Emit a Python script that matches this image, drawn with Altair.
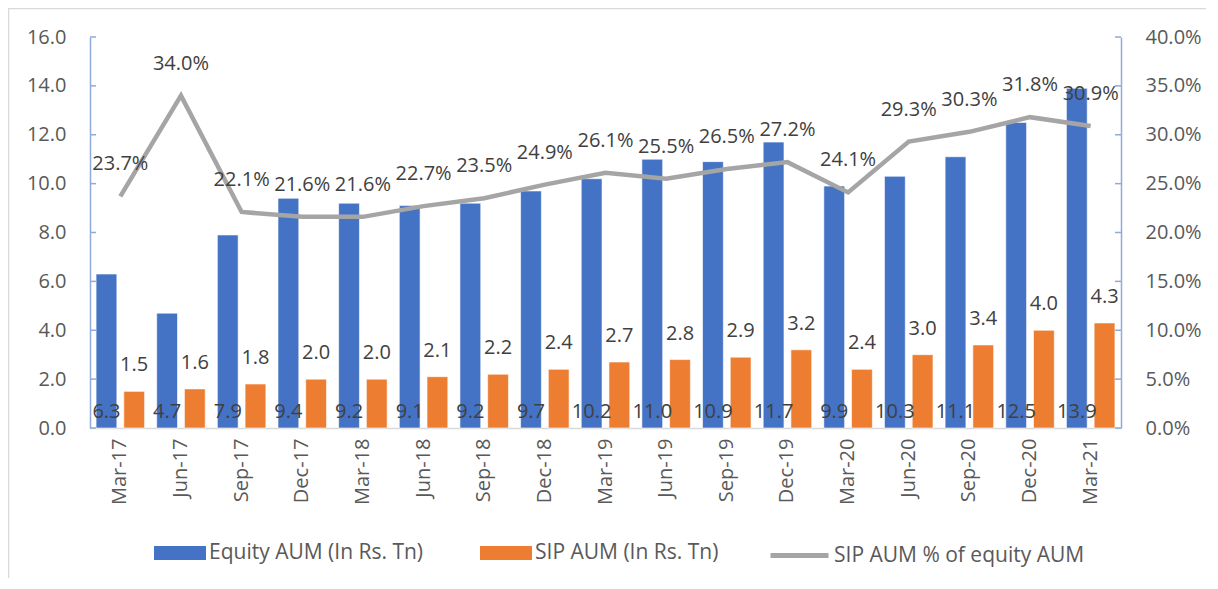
import altair as alt
import pandas as pd

quarters = ["Mar-17", "Jun-17", "Sep-17", "Dec-17", "Mar-18", "Jun-18", "Sep-18", "Dec-18",
            "Mar-19", "Jun-19", "Sep-19", "Dec-19", "Mar-20", "Jun-20", "Sep-20", "Dec-20", "Mar-21"]
equity = [6.3, 4.7, 7.9, 9.4, 9.2, 9.1, 9.2, 9.7, 10.2, 11.0, 10.9, 11.7, 9.9, 10.3, 11.1, 12.5, 13.9]
sip = [1.5, 1.6, 1.8, 2.0, 2.0, 2.1, 2.2, 2.4, 2.7, 2.8, 2.9, 3.2, 2.4, 3.0, 3.4, 4.0, 4.3]
pct = [0.237, 0.340, 0.221, 0.216, 0.216, 0.227, 0.235, 0.249, 0.261, 0.255, 0.265, 0.272,
       0.241, 0.293, 0.303, 0.318, 0.309]
left_ticks = [0, 2, 4, 6, 8, 10, 12, 14, 16]
right_ticks = [0, 0.05, 0.10, 0.15, 0.20, 0.25, 0.30, 0.35, 0.40]

S1 = "Equity AUM (In Rs. Tn)"
S2 = "SIP AUM (In Rs. Tn)"
S3 = "SIP AUM % of equity AUM"

BLUE = "#4472C4"
ORANGE = "#ED7D31"
GRAY = "#A5A5A5"
AXBLUE = "#8FAADC"
TXT = "#595959"
LBL = "#404040"
FONT = "Open Sans"

W, H = 1031, 391

bars_df = pd.DataFrame({
    "quarter": quarters * 2,
    "series": [S1] * len(quarters) + [S2] * len(quarters),
    "value": equity + sip,
})
line_df = pd.DataFrame({"quarter": quarters, "pct": pct, "series": S3})

x_axis = alt.Axis(title=None, labelAngle=270, ticks=False, domainColor="#D9D9D9",
                  domainWidth=1.5, labelFontSize=20, labelColor=TXT, labelFont=FONT,
                  labelPadding=10)
xenc = alt.X("quarter:N", sort=quarters,
             scale=alt.Scale(paddingInner=0.2, paddingOuter=0.1), axis=x_axis)
xplain = alt.X("quarter:N", sort=quarters, axis=x_axis)
xoff = alt.XOffset("series:N", sort=[S1, S2], scale=alt.Scale(paddingInner=0.25, paddingOuter=0))

yscale_l = alt.Scale(domain=[0, 16], nice=False)
yscale_r = alt.Scale(domain=[0, 0.4], nice=False)

axis_l = alt.Axis(title=None, values=left_ticks, format=".1f", grid=False, ticks=False,
                  domainColor=AXBLUE, domainWidth=1.5, labelFontSize=20, labelColor=TXT,
                  labelFont=FONT, labelPadding=24)
axis_r = alt.Axis(orient="right", title=None, values=right_ticks, format=".1%", grid=False,
                  ticks=False, domainColor=AXBLUE, domainWidth=1.5, labelFontSize=20,
                  labelColor=TXT, labelFont=FONT, labelPadding=24)

bars = alt.Chart(bars_df).mark_bar(stroke="white", strokeWidth=0.6).encode(
    x=xenc,
    xOffset=xoff,
    y=alt.Y("value:Q", scale=yscale_l, axis=axis_l),
    color=alt.Color("series:N", scale=alt.Scale(domain=[S1, S2], range=[BLUE, ORANGE]),
                    legend=alt.Legend(title=None, orient="none", legendX=64, legendY=490,
                                      direction="horizontal",
                                      symbolType="M-1,-0.27H1V0.27H-1Z", symbolSize=2704,
                                      symbolStrokeWidth=0, symbolOpacity=1,
                                      labelFontSize=21, labelColor=TXT, labelFont=FONT,
                                      columnPadding=56, labelOffset=3, labelLimit=400)),
)

eq_text = alt.Chart(bars_df).transform_filter(alt.datum.series == S1).mark_text(
    dy=-16, baseline="middle", fontSize=20, font=FONT, color=LBL
).encode(
    x=xplain, xOffset=xoff,
    y=alt.Y(datum=0, axis=axis_l),
    text=alt.Text("value:Q", format=".1f"),
)

sip_text = alt.Chart(bars_df).transform_filter(alt.datum.series == S2).mark_text(
    dy=-26, baseline="middle", fontSize=20, font=FONT, color=LBL
).encode(
    x=xplain, xOffset=xoff,
    y=alt.Y("value:Q", axis=axis_l),
    text=alt.Text("value:Q", format=".1f"),
)

lticks = alt.Chart(pd.DataFrame({"value": left_ticks})).mark_rule(color=AXBLUE, strokeWidth=1.5).encode(
    x=alt.value(0), x2=alt.value(6), y=alt.Y("value:Q", axis=axis_l)
)

border_l = alt.Chart(pd.DataFrame({"b": [0]})).mark_rule(color="#D9D9D9", strokeWidth=1.5).encode(
    x=alt.value(-81.5), y=alt.value(-29), y2=alt.value(H + 160)
)
border_t = alt.Chart(pd.DataFrame({"b": [0]})).mark_rule(color="#D9D9D9", strokeWidth=1.5).encode(
    y=alt.value(-28.5), x=alt.value(-82), x2=alt.value(W + 100)
)

group_left = alt.layer(bars, lticks, eq_text, sip_text, border_l, border_t)

line = alt.Chart(line_df).mark_line(strokeWidth=4.5).encode(
    x=xplain,
    y=alt.Y("pct:Q", scale=yscale_r, axis=axis_r),
    stroke=alt.Stroke("series:N", scale=alt.Scale(domain=[S3], range=[GRAY]),
                      legend=alt.Legend(title=None, orient="none", legendX=678, legendY=487,
                                        symbolType="stroke", symbolSize=3364, symbolStrokeWidth=5,
                                        labelFontSize=21, labelColor=TXT, labelFont=FONT,
                                        labelOffset=3, labelLimit=400)),
)

rticks = alt.Chart(pd.DataFrame({"pct": right_ticks})).mark_rule(color=AXBLUE, strokeWidth=1.5).encode(
    x=alt.value(W - 6), x2=alt.value(W), y=alt.Y("pct:Q", axis=axis_r)
)

line_text = alt.Chart(line_df).mark_text(
    dy=-32, baseline="middle", fontSize=20, font=FONT, color=LBL
).encode(
    x=xplain,
    y=alt.Y("pct:Q", axis=axis_r),
    text=alt.Text("pct:Q", format=".1%"),
)

group_right = alt.layer(line, rticks, line_text)

chart = alt.layer(group_left, group_right).resolve_scale(
    y="independent", color="independent", stroke="independent"
).properties(
    width=W, height=H,
    autosize=alt.AutoSizeParams(type="none"),
    padding={"left": 82, "top": 29, "right": 85, "bottom": 150},
    background="white",
).configure_view(stroke=None)

chart.save("out.html", embed_options={"renderer": "svg", "actions": False})
